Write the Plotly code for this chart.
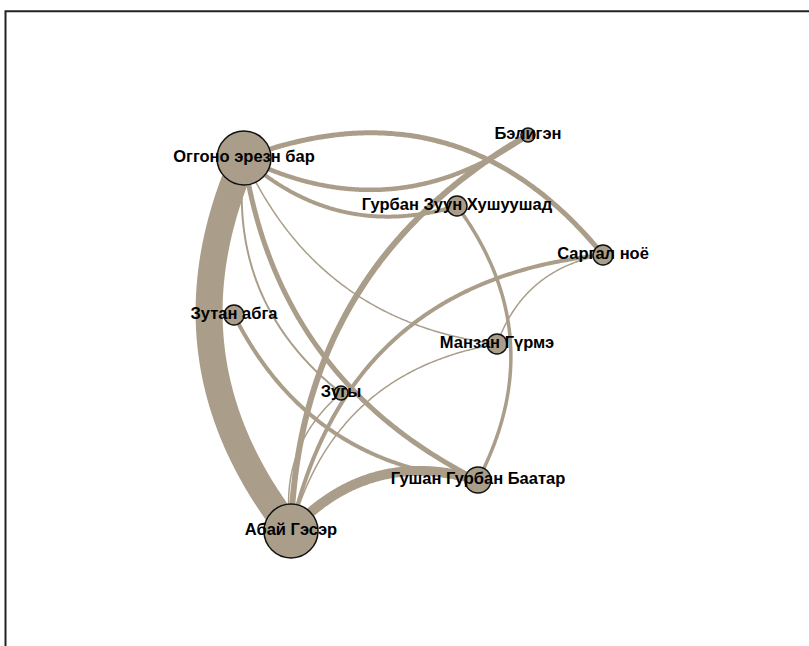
import numpy as np
import plotly.graph_objects as go

# ---- data ----
node_names = ["Оггоно эрезн бар", "Бэлигэн", "Гурбан Зуун Хушуушад", "Саргал ноё",
              "Манзан Гүрмэ", "Зутан абга", "Зугы", "Гушан Гурбан Баатар", "Абай Гэсэр"]
node_x = [244, 528, 457, 603, 497, 234, 341, 478, 291]
node_y = [158, 135, 206, 255, 344, 315, 393, 480, 531]
node_weight = [27, 7, 10, 10, 10, 10, 7, 13, 27]

edge_source = ["Оггоно эрезн бар", "Оггоно эрезн бар", "Оггоно эрезн бар", "Оггоно эрезн бар",
               "Оггоно эрезн бар", "Оггоно эрезн бар", "Оггоно эрезн бар", "Зутан абга",
               "Абай Гэсэр", "Абай Гэсэр", "Абай Гэсэр", "Абай Гэсэр",
               "Гурбан Зуун Хушуушад", "Манзан Гүрмэ", "Абай Гэсэр"]
edge_target = ["Абай Гэсэр", "Саргал ноё", "Бэлигэн", "Гурбан Зуун Хушуушад",
               "Манзан Гүрмэ", "Гушан Гурбан Баатар", "Зугы", "Гушан Гурбан Баатар",
               "Бэлигэн", "Саргал ноё", "Манзан Гүрмэ", "Гушан Гурбан Баатар",
               "Гушан Гурбан Баатар", "Саргал ноё", "Зугы"]
edge_weight = [27, 5, 4.5, 4, 1.5, 5, 2, 4, 6, 4, 1.5, 10, 3.5, 1.5, 1.5]

# ---- style ----
edge_curvature = [0.15, -0.18, 0.15, 0.14, 0.14, 0.13, 0.14, 0.14,
                  -0.14, -0.18, -0.16, -0.155, -0.156, -0.145, -0.14]
COLOR = "#aa9e8a"
W, H = 809, 646

idx = {n: i for i, n in enumerate(node_names)}
fig = go.Figure()

t = np.linspace(0, 1, 120)
for s, tg, w, c in zip(edge_source, edge_target, edge_weight, edge_curvature):
    p0 = np.array([node_x[idx[s]], node_y[idx[s]]], float)
    p2 = np.array([node_x[idx[tg]], node_y[idx[tg]]], float)
    d = p2 - p0
    L = np.hypot(*d)
    n = np.array([-d[1], d[0]]) / L
    ctrl = (p0 + p2) / 2 + 2 * c * L * n
    pts = ((1 - t) ** 2)[:, None] * p0 + (2 * t * (1 - t))[:, None] * ctrl + (t ** 2)[:, None] * p2
    fig.add_trace(go.Scatter(x=pts[:, 0], y=pts[:, 1], mode="lines",
                             line=dict(color=COLOR, width=w, shape="spline"), hoverinfo="skip",
                             showlegend=False))

fig.add_trace(go.Scatter(x=node_x, y=node_y, mode="markers",
                         marker=dict(size=[2 * r for r in node_weight], color=COLOR,
                                     line=dict(color="#111111", width=1.5), opacity=1),
                         text=node_names, hoverinfo="text", showlegend=False))
fig.add_trace(go.Scatter(x=node_x, y=node_y, mode="text", text=node_names,
                         textposition="middle center",
                         textfont=dict(family="Liberation Sans, Arial, sans-serif", size=16.5,
                                       color="#000000", weight="bold"),
                         hoverinfo="skip", showlegend=False))

fig.add_shape(type="rect", xref="paper", yref="paper",
              x0=5.5 / W, y0=1 - 11.3 / H, x1=1.05, y1=-0.05,
              line=dict(color="#222222", width=2))

fig.update_layout(width=W, height=H, margin=dict(l=0, r=0, t=0, b=0),
                  paper_bgcolor="white", plot_bgcolor="white",
                  xaxis=dict(range=[0, W], visible=False, fixedrange=True),
                  yaxis=dict(range=[H, 0], visible=False, fixedrange=True))

fig.write_html("out.html", config={"displayModeBar": False},
               post_script="document.body.style.margin='0';document.body.style.overflow='hidden';")
